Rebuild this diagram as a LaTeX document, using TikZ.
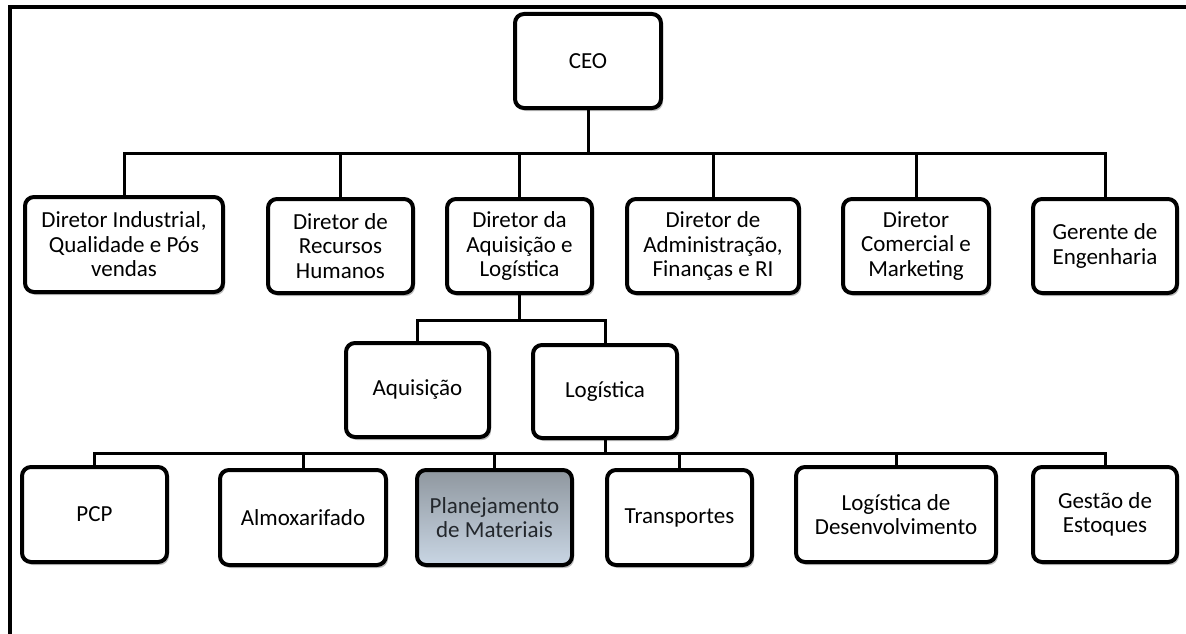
\documentclass[tikz,border=0pt]{standalone}
\usepackage{fontspec}
\setmainfont{Carlito}
\usetikzlibrary{shadows}
\definecolor{gtop}{HTML}{8F979F}
\definecolor{gmid}{HTML}{B5C0CC}
\definecolor{gbot}{HTML}{C9D6E4}
\definecolor{darktext}{HTML}{23272C}
\begin{document}
\begin{tikzpicture}[x=1pt,y=-1pt,
  box/.style={draw=black, line width=4pt, rounded corners=9pt, fill=white,
    align=center, inner sep=2pt, font=\fontsize{23}{24.5}\selectfont,
    drop shadow={shadow xshift=2pt, shadow yshift=-3pt, fill=black, opacity=0.25}},
  conn/.style={draw=black, line width=3pt},
  frame/.style={draw=black, line width=3.5pt}]
\useasboundingbox (0,0) rectangle (1186,634);
\draw[frame] (10,634) -- (10,7) -- (1186,7);

% level 0
\node[box, minimum width=146pt, minimum height=94pt] (ceo) at (588,61) {CEO};
% level 1
\node[box, minimum width=198pt, minimum height=95pt] (d1) at (124,244.5) {Diretor Industrial,\\Qualidade e Pós\\vendas};
\node[box, minimum width=145pt, minimum height=94pt] (d2) at (340.5,246) {Diretor de\\Recursos\\Humanos};
\node[box, minimum width=145pt, minimum height=94pt] (d3) at (519.5,246) {Diretor da\\Aquisição e\\Logística};
\node[box, minimum width=172pt, minimum height=94pt] (d4) at (713,246) {Diretor de\\Administração,\\Finanças e RI};
\node[box, minimum width=146pt, minimum height=94pt] (d5) at (916,246) {Diretor\\Comercial e\\Marketing};
\node[box, minimum width=144pt, minimum height=94pt] (d6) at (1105,246) {Gerente de\\Engenharia};
% level 2
\node[box, minimum width=143pt, minimum height=94pt] (aq) at (417.5,390) {Aquisição};
\node[box, minimum width=144pt, minimum height=93pt] (lg) at (605,391.5) {Logística};
% level 3
\node[box, minimum width=145pt, minimum height=95pt] (pcp) at (94.5,514.5) {PCP};
\node[box, minimum width=166pt, minimum height=95pt] (alm) at (303,517.5) {Almoxarifado};
\node[box, minimum width=155pt, minimum height=95pt, top color=gtop, middle color=gmid, bottom color=gbot, text=darktext] (pm) at (494.5,517.5) {Planejamento\\de Materiais};
\node[box, minimum width=145pt, minimum height=95pt] (tr) at (679.5,517.5) {Transportes};
\node[box, minimum width=200pt, minimum height=95pt] (ld) at (896,514.5) {Logística de\\Desenvolvimento};
\node[box, minimum width=144pt, minimum height=95pt] (ge) at (1105,514.5) {Gestão de\\Estoques};

% connectors level 0 -> 1
\coordinate (b1) at (588,153);
\draw[conn] (ceo.south) -- (b1);
\foreach \n in {d1,d2,d3,d4,d5,d6}
  \draw[conn] (b1) -| (\n.north);
% level 1 -> 2
\coordinate (b2) at (519.5,320);
\draw[conn] (d3.south) -- (b2);
\foreach \n in {aq,lg}
  \draw[conn] (b2) -| (\n.north);
% level 2 -> 3
\coordinate (b3) at (605,453);
\draw[conn] (lg.south) -- (b3);
\foreach \n in {pcp,alm,pm,tr,ld,ge}
  \draw[conn] (b3) -| (\n.north);
\end{tikzpicture}
\end{document}
